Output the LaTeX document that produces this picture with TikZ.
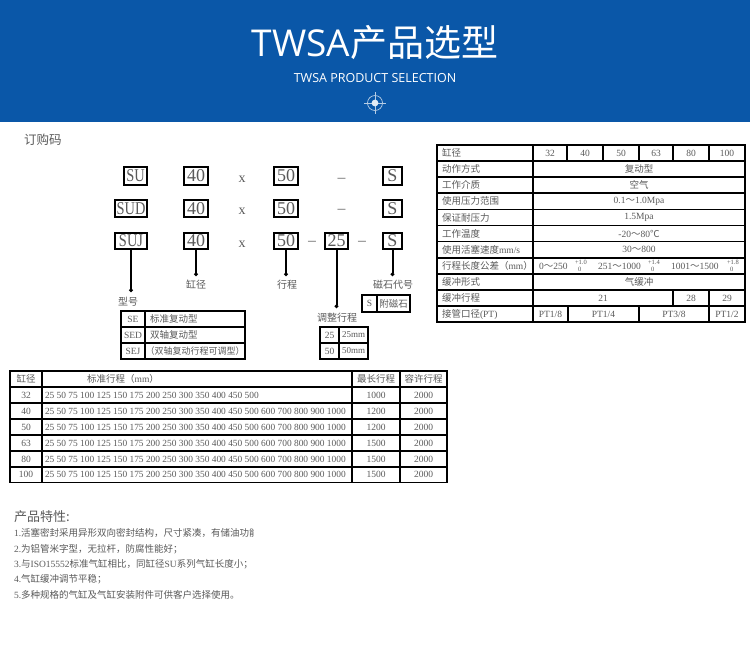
\documentclass[tikz,border=0pt]{standalone}
\usepackage{fontspec}
\usepackage{graphicx}
\usetikzlibrary{arrows.meta}
\setmainfont{Liberation Serif}
\newfontfamily\cjkf{Noto Sans CJK SC}
\newfontfamily\headf{Open Sans}
\newcommand{\zh}[1]{{\cjkf #1}}
\newcommand{\sz}[1]{\fontsize{#1}{#1}\selectfont}
\definecolor{headblue}{HTML}{0A57A8}
\definecolor{txtgray}{HTML}{5A5A5A}
\newcounter{cellno}
\tikzset{
  x=1pt,y=-1pt,
  tbl/.style={draw=black,line width=1.8pt},
  celltxt/.style={inner sep=0pt,outer sep=0pt,text=txtgray,font=\sz{9.5}},
  codebox/.style={draw=black,line width=2pt,inner sep=0pt,outer sep=0pt,fill=white,text=txtgray,font=\sz{18}},
  codetxt/.style={inner sep=0pt,outer sep=0pt,text=txtgray,font=\sz{14}},
  dashtxt/.style={inner sep=0pt,outer sep=0pt,text=black!75,font=\sz{10}},
  lead/.style={draw=black,line width=2pt,-{Circle[length=3.5pt]}},
  lbl/.style={inner sep=0pt,outer sep=0pt,text=txtgray,font=\sz{10}\cjkf},
  feat/.style={inner sep=0pt,outer sep=0pt,anchor=west,text=txtgray,font=\sz{9.5}},
}
\newcommand{\Cell}[5]{%
  \stepcounter{cellno}%
  \draw[tbl] (#1,#2) rectangle (#3,#4);
  \node[celltxt,name=c\thecellno] at ({(#1+#3)/2},{(#2+#4)/2}) {#5};
}
\newcommand{\CellL}[5]{%
  \stepcounter{cellno}%
  \draw[tbl] (#1,#2) rectangle (#3,#4);
  \node[celltxt,anchor=west,name=c\thecellno] at ({#1+5},{(#2+#4)/2}) {#5};
}
\newcommand{\CellN}[5]{%
  \stepcounter{cellno}%
  \draw[tbl] (#1,#2) rectangle (#3,#4);
  \node[celltxt,anchor=west,font=\sz{9.4},name=c\thecellno] at ({#1+3},{(#2+#4)/2}) {#5};
}
\newcommand{\Tol}[3]{%
  \stepcounter{cellno}%
  \node[celltxt,anchor=west,font=\sz{6.5},name=c\thecellno] at (#1,262.5) {#2};
  \stepcounter{cellno}%
  \node[celltxt,anchor=west,font=\sz{6.5},name=c\thecellno] at ({#1+3},269.5) {#3};
}
\newcommand{\LongStrokes}{25 50 75 100 125 150 175 200 250 300 350 400 450 500 600 700 800 900 1000}
\begin{document}
\begin{tikzpicture}
\useasboundingbox (0,0) rectangle (750,649);
\fill[white] (0,0) rectangle (750,649);
\fill[headblue] (0,0) rectangle (750,122);

% header
\node[inner sep=0pt,text=white,font=\sz{37}] (title) at (375,43) {{\headf TWSA}\zh{产品选型}};
\node[inner sep=0pt,text=white,font=\sz{12.5}\headf] (subtitle) at (375,78) {TWSA PRODUCT SELECTION};
\coordinate (ic) at (375,103);
\draw[white!70!headblue,line width=.7pt] (ic) circle (7.5);
\draw[white!70!headblue,line width=.7pt] (364,103) -- (386,103) (375,92) -- (375,114);
\fill[white!88!headblue] (ic) circle (3.4);

% order code
\node[inner sep=0pt,anchor=west,text=txtgray,font=\sz{12.5}\cjkf] (ordercode) at (24,140) {订购码};

\node[codebox,minimum width=23pt,minimum height=18pt] (su) at (135.5,176) {\scalebox{.8}[1]{SU}};
\node[codebox,minimum width=24pt,minimum height=18pt] (a40) at (196,176) {40};
\node[codetxt] (x1) at (242,179.5) {x};
\node[codebox,minimum width=24pt,minimum height=18pt] (a50) at (286,176) {50};
\node[dashtxt] (d1) at (341.5,179.5) {\zh{—}};
\node[codebox,minimum width=19pt,minimum height=18pt] (as) at (392.5,176) {S};

\node[codebox,minimum width=32pt,minimum height=17pt] (sud) at (131,208.5) {\scalebox{.8}[1]{SUD}};
\node[codebox,minimum width=24pt,minimum height=17pt] (b40) at (196,208.5) {40};
\node[codetxt] (x2) at (242,211.5) {x};
\node[codebox,minimum width=24pt,minimum height=17pt] (b50) at (286,208.5) {50};
\node[dashtxt] (d2) at (341.5,210.5) {\zh{—}};
\node[codebox,minimum width=19pt,minimum height=17pt] (bs) at (392.5,208.5) {S};

\node[codebox,minimum width=32pt,minimum height=16pt] (suj) at (131,241) {\scalebox{.8}[1]{SUJ}};
\node[codebox,minimum width=24pt,minimum height=16pt] (c40) at (196,241) {40};
\node[codetxt] (x3) at (242,244) {x};
\node[codebox,minimum width=24pt,minimum height=16pt] (c50) at (286,241) {50};
\node[dashtxt] (d3) at (312,242.5) {\zh{—}};
\node[codebox,minimum width=23pt,minimum height=16pt] (c25) at (336.5,241) {25};
\node[dashtxt] (d4) at (362,242.5) {\zh{—}};
\node[codebox,minimum width=19pt,minimum height=16pt] (cs) at (392.5,241) {S};

\coordinate (e1) at (131,292);
\coordinate (e2) at (196,276);
\coordinate (e3) at (286,276);
\coordinate (e4) at (336.5,308);
\coordinate (e5) at (392.5,276);
\draw[lead] (suj.south) -- (e1);
\draw[lead] (c40.south) -- (e2);
\draw[lead] (c50.south) -- (e3);
\draw[lead] (c25.south) -- (e4);
\draw[lead] (cs.south) -- (e5);

\node[lbl] (lxh) at (128,302) {型号};
\node[lbl] (lgj) at (196,285) {缸径};
\node[lbl] (lxc) at (287,285) {行程};
\node[lbl] (lcs) at (393,285) {磁石代号};
\node[lbl] (ltz) at (337,318) {调整行程};

% small tables
\Cell{362}{295}{377}{312}{S}
\Cell{377}{295}{410}{312}{\zh{附磁石}}

\Cell{121}{311}{145}{327}{SE}
\CellL{145}{311}{245}{327}{\zh{标准复动型}}
\Cell{121}{327}{145}{343}{SED}
\CellL{145}{327}{245}{343}{\zh{双轴复动型}}
\Cell{121}{343}{145}{359}{SEJ}
\Cell{145}{343}{245}{359}{\sz{9}\zh{（双轴复动行程可调型）}}

\Cell{320}{327}{339}{343}{25}
\Cell{339}{327}{368}{343}{\sz{9}25mm}
\Cell{320}{343}{339}{359}{50}
\Cell{339}{343}{368}{359}{\sz{9}50mm}

% spec table
\CellL{437}{145}{533}{161}{\zh{缸径}}
\Cell{533}{145}{567}{161}{32}
\Cell{567}{145}{603}{161}{40}
\Cell{603}{145}{639}{161}{50}
\Cell{639}{145}{673}{161}{63}
\Cell{673}{145}{709}{161}{80}
\Cell{709}{145}{745}{161}{100}
\CellL{437}{161}{533}{177}{\zh{动作方式}}
\Cell{533}{161}{745}{177}{\zh{复动型}}
\CellL{437}{177}{533}{193}{\zh{工作介质}}
\Cell{533}{177}{745}{193}{\zh{空气}}
\CellL{437}{193}{533}{209.5}{\zh{使用压力范围}}
\Cell{533}{193}{745}{209.5}{0.1\zh{～}1.0Mpa}
\CellL{437}{209.5}{533}{225.5}{\zh{保证耐压力}}
\Cell{533}{209.5}{745}{225.5}{1.5Mpa}
\CellL{437}{225.5}{533}{241.5}{\zh{工作温度}}
\Cell{533}{225.5}{745}{241.5}{-20\zh{～}80\zh{℃}}
\CellL{437}{241.5}{533}{258}{\zh{使用活塞速度}mm/s}
\Cell{533}{241.5}{745}{258}{30\zh{～}800}
\CellL{437}{258}{533}{274}{\zh{行程长度公差（}mm\zh{）}}
\draw[tbl] (533,258) rectangle (745,274);
\node[celltxt,anchor=west] (t1) at (539,266) {0\zh{～}250};
\Tol{575}{+1.0}{0}
\node[celltxt,anchor=west] (t2) at (598,266) {251\zh{～}1000};
\Tol{648}{+1.4}{0}
\node[celltxt,anchor=west] (t3) at (671,266) {1001\zh{～}1500};
\Tol{727}{+1.8}{0}
\CellL{437}{274}{533}{290}{\zh{缓冲形式}}
\Cell{533}{274}{745}{290}{\zh{气缓冲}}
\CellL{437}{290}{533}{306}{\zh{缓冲行程}}
\Cell{533}{290}{673}{306}{21}
\Cell{673}{290}{709}{306}{28}
\Cell{709}{290}{745}{306}{29}
\CellL{437}{306}{533}{322}{\zh{接管口径}(PT)}
\Cell{533}{306}{568}{322}{PT1/8}
\Cell{568}{306}{639}{322}{PT1/4}
\Cell{639}{306}{709}{322}{PT3/8}
\Cell{709}{306}{745}{322}{PT1/2}

% stroke table
\Cell{10}{371}{42}{387}{\zh{缸径}}
\draw[tbl] (42,371) rectangle (352,387);
\node[celltxt] (hstd) at (123,379) {\zh{标准行程（}mm\zh{）}};
\Cell{352}{371}{400}{387}{\zh{最长行程}}
\Cell{400}{371}{447}{387}{\zh{容许行程}}

\Cell{10}{387}{42}{403}{32}
\CellN{42}{387}{352}{403}{25 50 75 100 125 150 175 200 250 300 350 400 450 500}
\Cell{352}{387}{400}{403}{1000}
\Cell{400}{387}{447}{403}{2000}

\Cell{10}{403}{42}{419}{40}
\CellN{42}{403}{352}{419}{\LongStrokes}
\Cell{352}{403}{400}{419}{1200}
\Cell{400}{403}{447}{419}{2000}

\Cell{10}{419}{42}{435}{50}
\CellN{42}{419}{352}{435}{\LongStrokes}
\Cell{352}{419}{400}{435}{1200}
\Cell{400}{419}{447}{435}{2000}

\Cell{10}{435}{42}{451}{63}
\CellN{42}{435}{352}{451}{\LongStrokes}
\Cell{352}{435}{400}{451}{1500}
\Cell{400}{435}{447}{451}{2000}

\Cell{10}{451}{42}{467}{80}
\CellN{42}{451}{352}{467}{\LongStrokes}
\Cell{352}{451}{400}{467}{1500}
\Cell{400}{451}{447}{467}{2000}

\Cell{10}{467}{42}{482.5}{100}
\CellN{42}{467}{352}{482.5}{\LongStrokes}
\Cell{352}{467}{400}{482.5}{1500}
\Cell{400}{467}{447}{482.5}{2000}

% features
\node[feat,font=\sz{13}\cjkf] (ftitle) at (14,517) {产品特性:};
\begin{scope}
\clip (0,525) rectangle (253,541);
\node[feat] (f1) at (14,533) {1.\zh{活塞密封采用异形双向密封结构，尺寸紧凑，有储油功能}};
\end{scope}
\node[feat] (f2) at (14,549) {2.\zh{为铝管米字型，无拉杆，防腐性能好；}};
\node[feat] (f3) at (14,564) {3.\zh{与}ISO15552\zh{标准气缸相比，同缸径}SU\zh{系列气缸长度小；}};
\node[feat] (f4) at (14,579) {4.\zh{气缸缓冲调节平稳；}};
\node[feat] (f5) at (14,595) {5.\zh{多种规格的气缸及气缸安装附件可供客户选择使用。}};
\end{tikzpicture}
\end{document}
